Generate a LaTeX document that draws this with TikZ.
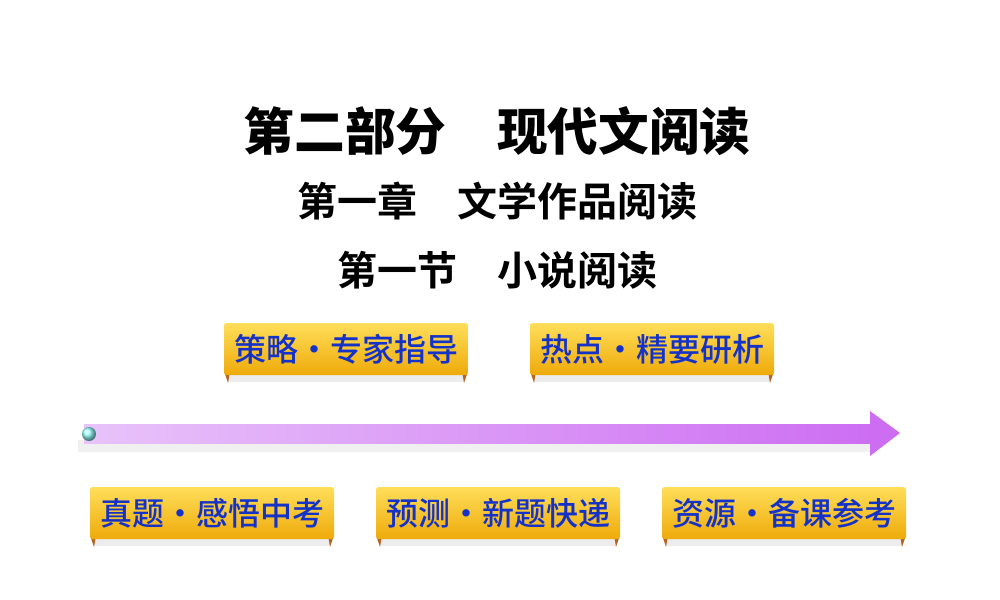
\documentclass[tikz,border=0pt]{standalone}
\usepackage{fontspec}
\newfontfamily\cjk{Noto Sans CJK SC Bold}
\newfontfamily\cjkm{Noto Sans CJK SC Medium}
\newfontfamily\cjkb{Noto Sans CJK SC Black}
\definecolor{gold1}{RGB}{255,222,90}
\definecolor{gold2}{RGB}{238,170,10}
\definecolor{btxt}{RGB}{20,50,200}
\definecolor{fold}{RGB}{180,100,30}
\definecolor{barL}{RGB}{232,195,250}
\definecolor{barR}{RGB}{205,110,242}
\tikzset{
  btn/.style={minimum width=244*0.75pt,minimum height=52*0.75pt,inner sep=0pt,
    top color=gold1,bottom color=gold2,rounded corners=2pt,
    font=\cjkm\fontsize{24}{24}\selectfont,text=btxt},
  ttl/.style={font=\cjk\fontsize{30}{30}\selectfont,text=black}
}
\newcommand{\btnbox}[4]{%
  \fill[gray!15] (#2-118,#3+24) rectangle (#2+118,#3+33);
  \fill[fold] (#2-122,#3+22) -- (#2-116,#3+22) -- (#2-118,#3+34) -- cycle;
  \fill[fold] (#2+122,#3+22) -- (#2+116,#3+22) -- (#2+118,#3+34) -- cycle;
  \node[btn] (#1) at (#2,#3) {#4};}
\begin{document}
\begin{tikzpicture}[x=0.75pt,y=-0.75pt]
\useasboundingbox[fill=white] (0,0) rectangle (1000,600);
\node[font=\cjkb\fontsize{38}{38}\selectfont] (t1) at (497,131) {第二部分\hspace{1em}现代文阅读};
\node[ttl] (t2) at (497,201) {第一章\hspace{1em}文学作品阅读};
\node[ttl] (t3) at (497,270) {第一节\hspace{1em}小说阅读};
\btnbox{b1}{346}{349}{策略·专家指导}
\btnbox{b2}{652}{349}{热点·精要研析}
\btnbox{b3}{212}{513}{真题·感悟中考}
\btnbox{b4}{498}{513}{预测·新题快递}
\btnbox{b5}{784}{513}{资源·备课参考}
% arrow
\fill[gray!12] (78,440) rectangle (872,452);
\shade[left color=barL,right color=barR] (84,424) rectangle (872,443);
\fill[barR] (870,411) -- (900,433) -- (870,456) -- cycle;
\node[circle,minimum size=14*0.75pt,inner sep=0pt,ball color=cyan!40] (dot) at (89,434) {};
\end{tikzpicture}
\end{document}
